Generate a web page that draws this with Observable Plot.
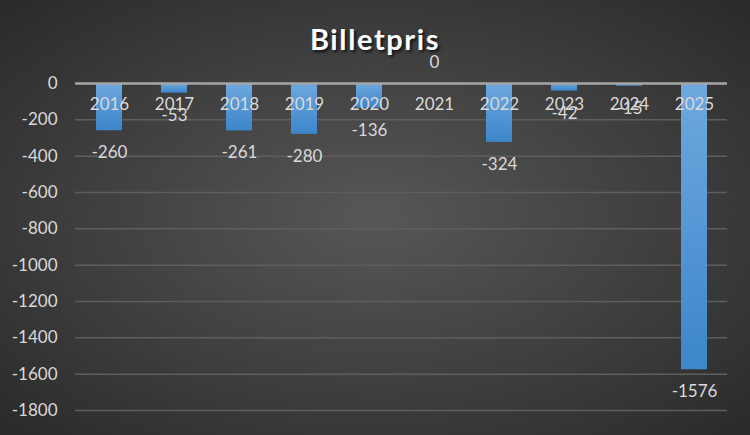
<!DOCTYPE html>
<html>
<head>
<meta charset="utf-8">
<script src="https://cdn.jsdelivr.net/npm/d3@7"></script>
<script src="https://cdn.jsdelivr.net/npm/@observablehq/plot@0.6"></script>
<style>
  html, body { margin: 0; padding: 0; }
  #wrap {
    width: 750px; height: 435px; position: relative; overflow: hidden;
    background: radial-gradient(ellipse 75% 75% at 50% 50%, #575757 0%, #3d3d3d 55%, #272727 100%);
    font-family: Lato, "Open Sans", sans-serif;
  }
  #title {
    height: 60px; line-height: 78px; text-align: center; color: #fff;
    font-size: 29px; font-weight: bold; letter-spacing: 1.6px;
    text-shadow: 2px 2px 3px rgba(0,0,0,0.7);
    padding-left: 0px;
  }
  svg { overflow: visible; display: block; }
</style>
</head>
<body>
<div id="wrap"><div id="title">Billetpris</div><div id="chart"></div></div>
<script>
const years = ["2016","2017","2018","2019","2020","2021","2022","2023","2024","2025"];
const values = [-260, -53, -261, -280, -136, 0, -324, -42, -15, -1576];
const yTicks = [0, -200, -400, -600, -800, -1000, -1200, -1400, -1600, -1800];

const data = years.map((y, i) => ({year: y, value: values[i]}));

const chart = Plot.plot({
  width: 750,
  height: 375,
  marginTop: 23,
  marginBottom: 25,
  marginLeft: 75,
  marginRight: 23,
  style: {background: "transparent", fontFamily: "Lato, 'Open Sans', sans-serif", fontSize: "17px", color: "#d9d9d9"},
  x: {domain: years, paddingInner: 0.6, paddingOuter: 0.3, axis: null},
  y: {domain: [-1800, 0], ticks: yTicks, label: null, tickFormat: d => String(d)},
  marks: [
    Plot.gridY(yTicks.filter(t => t !== 0), {stroke: "#5e5e5e", strokeOpacity: 1, strokeWidth: 1.5}),
    Plot.axisY(yTicks, {tickSize: 0, tickPadding: 18, fill: "#d9d9d9", fontSize: 17, label: null, tickFormat: d => String(d)}),
    Plot.barY(data, {x: "year", y: "value", fill: "url(#barGrad)", style: "filter: drop-shadow(2px 2px 2px rgba(0,0,0,0.55))"}),
    Plot.ruleY([0], {stroke: "#a6a6a6", strokeWidth: 2.5}),
    Plot.text(data, {x: "year", y: () => 0, text: "year", dy: 21, fill: "#d9d9d9", fontSize: 17}),
    Plot.text(data, {x: "year", y: "value", text: d => String(d.value), fill: "#d9d9d9", fontSize: 17,
      filter: d => d.value < 0, dy: 22}),
    Plot.text(data, {x: "year", y: "value", text: d => String(d.value), fill: "#d9d9d9", fontSize: 17,
      filter: d => d.value >= 0, dy: -21})
  ]
});

const ns = "http://www.w3.org/2000/svg";
const defs = document.createElementNS(ns, "defs");
defs.innerHTML = `<linearGradient id="barGrad" x1="0" y1="0" x2="0" y2="1">
  <stop offset="0%" stop-color="#6fa8de"/>
  <stop offset="100%" stop-color="#3c86cb"/>
</linearGradient>`;
chart.insertBefore(defs, chart.firstChild);
document.getElementById("chart").appendChild(chart);
</script>
</body>
</html>
